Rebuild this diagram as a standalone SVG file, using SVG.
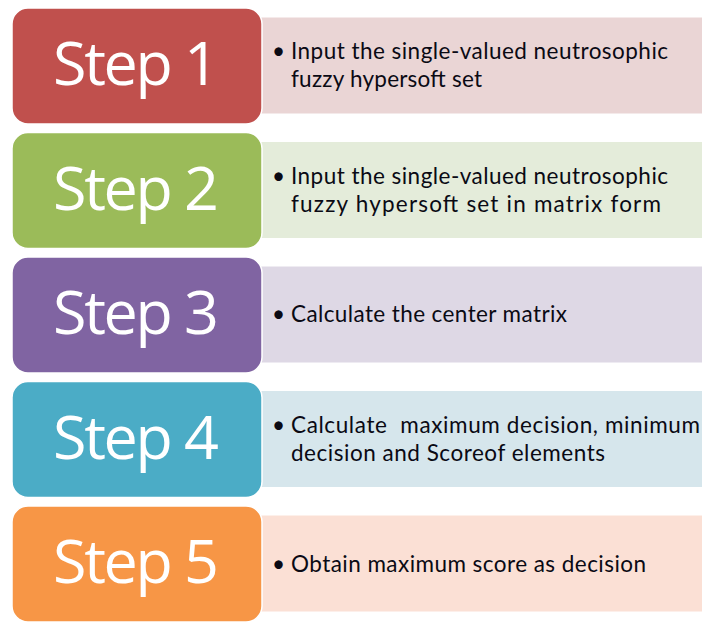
<svg xmlns="http://www.w3.org/2000/svg" width="702" height="622" viewBox="0 0 702 622">
<style>
.box{stroke:#fff;stroke-width:1.5}
.panel{stroke:#fff;stroke-width:1}
.step{font-family:"Open Sans","Lato",sans-serif;font-size:61px;fill:#fff;text-anchor:middle}
.txt{font-family:"Lato","Open Sans",sans-serif;font-size:22.5px;fill:#0a0a14}
</style>
<rect width="702" height="622" fill="#fff"/>
<g id="step1">
<rect class="panel" x="250" y="17" width="460" height="97" fill="#EAD5D5"/>
<rect class="box" x="12" y="8" width="250" height="116" rx="16" fill="#C0504D"/>
<text class="step" x="136" y="85" textLength="166">Step 1</text>
<text class="txt" x="272" y="59">•</text>
<text class="txt" x="291" y="59" textLength="377">Input the single-valued neutrosophic</text>
<text class="txt" x="291" y="87" textLength="191">fuzzy hypersoft set</text>
</g>
<g id="step2">
<rect class="panel" x="250" y="141.5" width="460" height="97" fill="#E4ECDA"/>
<rect class="box" x="12" y="132.5" width="250" height="116" rx="16" fill="#9BBB59"/>
<text class="step" x="136" y="209.5" textLength="166">Step 2</text>
<text class="txt" x="272" y="183.5">•</text>
<text class="txt" x="291" y="183.5" textLength="377">Input the single-valued neutrosophic</text>
<text class="txt" x="291" y="211.5" textLength="370">fuzzy hypersoft set in matrix form</text>
</g>
<g id="step3">
<rect class="panel" x="250" y="266" width="460" height="97" fill="#DED8E5"/>
<rect class="box" x="12" y="257" width="250" height="116" rx="16" fill="#8064A2"/>
<text class="step" x="136" y="334" textLength="166">Step 3</text>
<text class="txt" x="272" y="322">•</text>
<text class="txt" x="291" y="322" textLength="276">Calculate the center matrix</text>
</g>
<g id="step4">
<rect class="panel" x="250" y="390.5" width="460" height="97" fill="#D6E6EC"/>
<rect class="box" x="12" y="381.5" width="250" height="116" rx="16" fill="#4BACC6"/>
<text class="step" x="136" y="458.5" textLength="166">Step 4</text>
<text class="txt" x="272" y="433">•</text>
<text class="txt" x="291" y="433" textLength="409" xml:space="preserve">Calculate  maximum decision, minimum</text>
<text class="txt" x="291" y="461" textLength="314">decision and Scoreof elements</text>
</g>
<g id="step5">
<rect class="panel" x="250" y="515" width="460" height="97" fill="#FBE0D5"/>
<rect class="box" x="12" y="506" width="250" height="116" rx="16" fill="#F79646"/>
<text class="step" x="136" y="583" textLength="166">Step 5</text>
<text class="txt" x="272" y="572">•</text>
<text class="txt" x="291" y="572" textLength="355">Obtain maximum score as decision</text>
</g>
<g id="connectors"/>
</svg>
